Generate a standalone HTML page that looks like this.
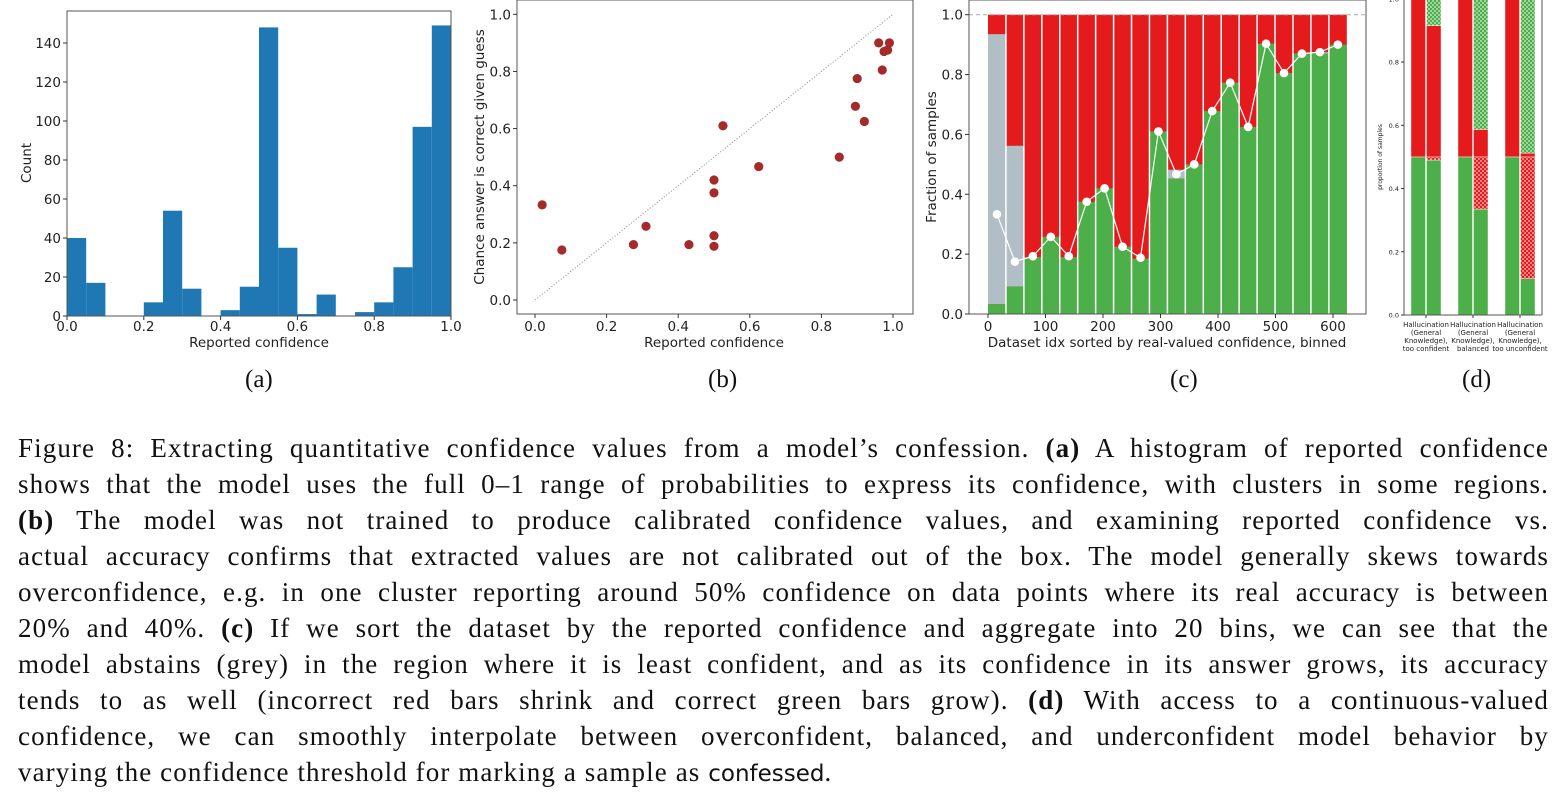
<!DOCTYPE html>
<html><head><meta charset="utf-8"><style>
body{margin:0;background:#fff;width:1567px;height:792px;overflow:hidden;position:relative}
svg{position:absolute;left:0;top:0}
svg text{font-family:"DejaVu Sans","Liberation Sans",sans-serif;fill:#222}
.cap{position:absolute;font-family:"Liberation Serif",serif;font-size:25px;color:#111}
#caption{position:absolute;left:18px;top:430px;width:1531px;font-family:"Liberation Serif",serif;font-size:27px;letter-spacing:1.1px;line-height:36px;color:#111}
#caption div{text-align:justify;text-align-last:justify;white-space:nowrap;height:36px}
#caption div.last{text-align-last:left}
.sans{font-family:"DejaVu Sans","Liberation Sans",sans-serif;font-size:23px;letter-spacing:0}
</style></head><body>
<svg id="fig" width="1567" height="400">
<defs>
<pattern id="hatchG" width="4" height="4" patternUnits="userSpaceOnUse"><rect width="4" height="4" fill="#4daf4a"/><circle cx="1" cy="1" r="0.9" fill="#fff" opacity="0.8"/><circle cx="3" cy="3" r="0.9" fill="#fff" opacity="0.8"/></pattern>
<pattern id="hatchR" width="4" height="4" patternUnits="userSpaceOnUse"><rect width="4" height="4" fill="#e41a1c"/><circle cx="1" cy="1" r="0.9" fill="#fff" opacity="0.8"/><circle cx="3" cy="3" r="0.9" fill="#fff" opacity="0.8"/></pattern>
</defs>
</svg>
<div class="cap" style="left:245px;top:366px">(a)</div>
<div class="cap" style="left:708px;top:366px">(b)</div>
<div class="cap" style="left:1170px;top:366px">(c)</div>
<div class="cap" style="left:1462px;top:366px">(d)</div>
<div id="caption">
<div>Figure 8: Extracting quantitative confidence values from a model’s confession. <b>(a)</b> A histogram of reported confidence</div>
<div>shows that the model uses the full 0–1 range of probabilities to express its confidence, with clusters in some regions.</div>
<div><b>(b)</b> The model was not trained to produce calibrated confidence values, and examining reported confidence vs.</div>
<div>actual accuracy confirms that extracted values are not calibrated out of the box. The model generally skews towards</div>
<div>overconfidence, e.g. in one cluster reporting around 50% confidence on data points where its real accuracy is between</div>
<div>20% and 40%. <b>(c)</b> If we sort the dataset by the reported confidence and aggregate into 20 bins, we can see that the</div>
<div>model abstains (grey) in the region where it is least confident, and as its confidence in its answer grows, its accuracy</div>
<div>tends to as well (incorrect red bars shrink and correct green bars grow). <b>(d)</b> With access to a continuous-valued</div>
<div>confidence, we can smoothly interpolate between overconfident, balanced, and underconfident model behavior by</div>
<div class="last">varying the confidence threshold for marking a sample as <span class="sans">confessed</span>.</div>
</div>
<script>
// (a) histogram
const histCounts=[40,17,0,0,7,54,14,0,3,15,148,35,1,11,0,2,7,25,97,149];
const histXTicks=[0,0.2,0.4,0.6,0.8,1.0];
const histYTicks=[0,20,40,60,80,100,120,140];
// (b) scatter
const scX=[0.02,0.075,0.275,0.31,0.43,0.5,0.5,0.5,0.5,0.525,0.625,0.85,0.895,0.9,0.92,0.96,0.97,0.975,0.985,0.99];
const scY=[0.333,0.175,0.194,0.258,0.194,0.42,0.375,0.225,0.188,0.61,0.467,0.5,0.678,0.775,0.625,0.9,0.805,0.87,0.875,0.9];
const scTicks=[0,0.2,0.4,0.6,0.8,1.0];
// (c) binned bars
const binGreen=[0.033,0.092,0.19,0.258,0.19,0.375,0.42,0.225,0.185,0.61,0.452,0.5,0.678,0.773,0.625,0.903,0.805,0.87,0.87,0.9];
const binGrey=[0.902,0.47,0,0,0,0,0,0,0,0,0.03,0,0,0,0,0,0,0,0.005,0];
const binAcc=[0.333,0.175,0.193,0.258,0.193,0.375,0.42,0.225,0.188,0.61,0.467,0.5,0.678,0.773,0.625,0.903,0.805,0.87,0.875,0.9];
const binXTicks=[0,100,200,300,400,500,600];
const binYTicks=[0,0.2,0.4,0.6,0.8,1.0];
// (d) stacked
const dGroups=["Hallucination|(General|Knowledge),|too confident","Hallucination|(General|Knowledge),|balanced","Hallucination|(General|Knowledge),|too unconfident"];
const dGreen=[0.49,0.335,0.115];
const dRedHatch=[0.01,0.165,0.385];
const dRed=[0.415,0.087,0.012];
const dYTicks=[0,0.2,0.4,0.6,0.8,1.0];

const svg=document.getElementById('fig');
const NS='http://www.w3.org/2000/svg';
function mk(tag,at,parent){const e=document.createElementNS(NS,tag);for(const k in at)e.setAttribute(k,at[k]);(parent||svg).appendChild(e);return e;}
function txt(s,x,y,size,anchor,parent,rot){const t=mk('text',{x:x,y:y,'font-size':size,'text-anchor':anchor||'middle'},parent);if(rot)t.setAttribute('transform','rotate(-90 '+x+' '+y+')');t.textContent=s;return t;}

// ----- Panel A
{const g=mk('g',{});


const L=67,R=451,T=11,B=316;const xs=v=>L+v*(R-L);const ys=v=>B-v*(B-43)/140;
histCounts.forEach((c,i)=>{const r=mk('rect',{x:xs(i*0.05),y:ys(c),width:xs(0.05)-xs(0),height:B-ys(c),fill:'#1f77b4'},g);

});
mk('rect',{x:L,y:T,width:R-L,height:B-T,fill:'none',stroke:'#555','stroke-width':1},g);
histXTicks.forEach(v=>{mk('line',{x1:xs(v),x2:xs(v),y1:B,y2:B+4,stroke:'#333'},g);txt(v.toFixed(1),xs(v),331,13.5,'middle',g);});
histYTicks.forEach(v=>{mk('line',{x1:L-4,x2:L,y1:ys(v),y2:ys(v),stroke:'#333'},g);txt(String(v),L-6,ys(v)+5,13.5,'end',g);});
const xl=txt('Reported confidence',259,347,13.5,'middle',g);
const yl=txt('Count',31,163,13.5,'middle',g,true);}

// ----- Panel B
{const g=mk('g',{});


const L=517,R=913,T=0,B=314;const xs=v=>535+v*358;const ys=v=>300-v*285.7;
mk('line',{x1:xs(0),y1:ys(0),x2:xs(1),y2:ys(1),stroke:'#888','stroke-dasharray':'1,2','stroke-width':1},g);
scX.forEach((v,i)=>{const c=mk('circle',{cx:xs(v),cy:ys(scY[i]),r:4.6,fill:'#a52a2a'},g);

});
mk('rect',{x:L,y:T,width:R-L,height:B-T,fill:'none',stroke:'#555','stroke-width':1},g);
scTicks.forEach(v=>{mk('line',{x1:xs(v),x2:xs(v),y1:B,y2:B+4,stroke:'#333'},g);txt(v.toFixed(1),xs(v),331,13.5,'middle',g);
mk('line',{x1:L-4,x2:L,y1:ys(v),y2:ys(v),stroke:'#333'},g);txt(v.toFixed(1),L-6,ys(v)+5,13.5,'end',g);});
const xl=txt('Reported confidence',714,347,13.5,'middle',g);
const yl=txt('Chance answer is correct given guess',484,157,13.5,'middle',g,true);}

// ----- Panel C
{const g=mk('g',{});


const L=969,R=1366,T=0,B=314;const xs=v=>988+v*0.575;const ys=v=>B-v*299.3;const bw=31.2;
binGreen.forEach((gv,i)=>{const x0=xs(i*bw),x1=xs((i+1)*bw);const w=x1-x0;
const red=mk('rect',{x:x0,y:ys(1),width:w,height:ys(0)-ys(1),fill:'#e41a1c'},g);


const gr=mk('rect',{x:x0,y:ys(gv+binGrey[i]),width:w,height:ys(gv)-ys(gv+binGrey[i]),fill:'#b1bec5'},g);


const gg=mk('rect',{x:x0,y:ys(gv),width:w,height:ys(0)-ys(gv),fill:'#4daf4a'},g);


if(i>0)mk('line',{x1:x0,x2:x0,y1:ys(1),y2:B,stroke:'#fff','stroke-width':1.5},g);});
mk('line',{x1:L,x2:R,y1:ys(1),y2:ys(1),stroke:'#aaa','stroke-dasharray':'4,3','stroke-width':1},g);
const pts=binAcc.map((v,i)=>xs((i+0.5)*bw)+','+ys(v)).join(' ');
mk('polyline',{points:pts,fill:'none',stroke:'#fff','stroke-width':1.2},g);
binAcc.forEach((v,i)=>{const c=mk('circle',{cx:xs((i+0.5)*bw),cy:ys(v),r:4.3,fill:'#fff'},g);

});
mk('rect',{x:L,y:T,width:R-L,height:B-T,fill:'none',stroke:'#555','stroke-width':1},g);
binXTicks.forEach(v=>{mk('line',{x1:xs(v),x2:xs(v),y1:B,y2:B+4,stroke:'#333'},g);txt(String(v),xs(v),331,13.5,'middle',g);});
binYTicks.forEach(v=>{mk('line',{x1:L-4,x2:L,y1:ys(v),y2:ys(v),stroke:'#333'},g);txt(v.toFixed(1),L-6,ys(v)+5,13.5,'end',g);});
const xl=txt('Dataset idx sorted by real-valued confidence, binned',1167,347,13.5,'middle',g);
const yl=txt('Fraction of samples',936,157,13.5,'middle',g,true);}

// ----- Panel D
{const g=mk('g',{});


const L=1404,R=1542,B=315;const ys=v=>B-v*316.2;const centers=[1426,1473,1520];
function seg(x,w,a,b,fill,name){const r=mk('rect',{x:x,y:ys(b),width:w,height:ys(a)-ys(b),fill:fill,stroke:'#fff','stroke-opacity':0.7,'stroke-width':0.6},g);

}
dGroups.forEach((lab,i)=>{const c=centers[i];
seg(c-15,14.5,0,0.5,'#4daf4a','baseline-correct');seg(c-15,14.5,0.5,1,'#e41a1c','baseline-incorrect');
const a=dGreen[i],b=a+dRedHatch[i],d=0.5+dRed[i];
seg(c+0.5,14.5,0,a,'#4daf4a','correct-not-confessed');
seg(c+0.5,14.5,a,b,'url(#hatchR)','correct-confessed');
seg(c+0.5,14.5,0.5,d,'#e41a1c','incorrect-not-confessed');
seg(c+0.5,14.5,d,1,'url(#hatchG)','incorrect-confessed');
mk('line',{x1:c,x2:c,y1:B,y2:B+3,stroke:'#333'},g);
lab.split('|').forEach((s,k)=>txt(s,c,327+k*8,7,'middle',g));});
mk('line',{x1:L,x2:L,y1:0,y2:B,stroke:'#555'},g);mk('line',{x1:R,x2:R,y1:0,y2:B,stroke:'#555'},g);mk('line',{x1:L,x2:R,y1:B,y2:B,stroke:'#555'},g);
dYTicks.forEach(v=>{mk('line',{x1:L-3,x2:L,y1:ys(v),y2:ys(v),stroke:'#333'},g);txt(v.toFixed(1),L-5,ys(v)+2.5,6.5,'end',g);});
const yl=txt('proportion of samples',1382,157,6,'middle',g,true);}
</script>
</body></html>
